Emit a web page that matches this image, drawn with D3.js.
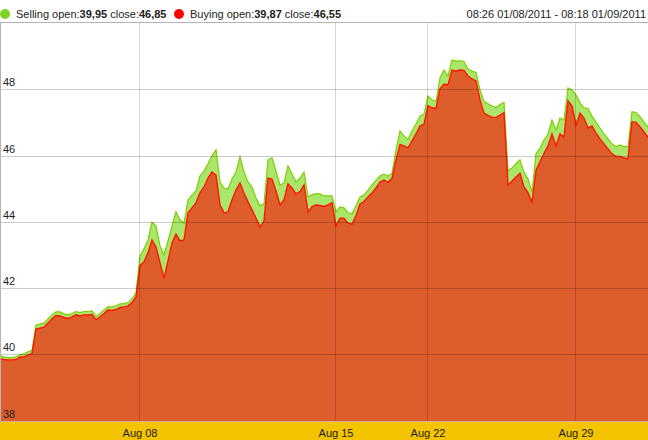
<!DOCTYPE html>
<html lang="en">
<head>
  <meta charset="UTF-8">
  <title>Selling / Buying</title>
  <style>
    body { margin: 0; background: #ffffff; }
    svg text { font-family: "Liberation Sans", Arial, sans-serif; font-size: 11px; fill: #222222; }
  </style>
</head>
<body>
<svg id="chart" width="648" height="440"></svg>

<script src="https://cdn.jsdelivr.net/npm/d3@7/dist/d3.min.js" charset="utf-8"></script>
<script>
  "use strict";

  var sellingValues = [
    39.95,39.92,39.90,39.90,39.92,39.99,40.01,40.07,40.11,40.88,
    40.91,40.94,41.07,41.19,41.28,41.28,41.22,41.19,41.23,41.29,
    41.26,41.29,41.29,41.31,41.14,41.23,41.34,41.44,41.43,41.46,
    41.52,41.53,41.56,41.67,41.85,42.97,43.18,43.45,43.99,43.87,
    43.27,43.00,43.42,43.87,44.30,44.05,43.96,44.66,44.81,44.93,
    45.38,45.53,45.75,45.99,46.17,45.20,45.02,44.99,45.29,45.50,
    45.96,45.50,45.20,45.05,44.72,44.48,44.54,45.87,45.93,45.53,
    45.11,45.17,45.68,45.44,45.20,45.32,45.50,44.75,44.81,44.85,
    44.84,44.78,44.78,44.78,44.30,44.45,44.42,44.27,44.24,44.48,
    44.75,44.81,44.95,45.11,45.25,45.38,45.44,45.38,45.46,46.17,
    46.74,46.59,46.48,46.74,46.95,47.19,47.25,47.80,47.68,47.63,
    48.34,48.58,48.40,48.88,48.85,48.86,48.84,48.61,48.55,48.51,
    47.98,47.63,47.56,47.50,47.45,47.54,47.60,45.53,45.62,45.75,
    45.87,45.50,45.29,44.90,46.05,46.22,46.47,46.65,47.07,46.77,
    47.13,47.07,48.04,47.98,47.83,47.59,47.44,47.42,47.19,47.01,
    46.83,46.65,46.50,46.35,46.27,46.32,46.27,46.27,47.32,47.30,
    47.17,47.01,46.85
  ];

  var buyingValues = [
    39.87,39.84,39.83,39.83,39.84,39.92,39.92,39.98,40.02,40.76,
    40.79,40.82,40.94,41.07,41.17,41.16,41.11,41.08,41.13,41.19,
    41.16,41.19,41.19,41.20,41.04,41.13,41.23,41.34,41.32,41.35,
    41.41,41.43,41.46,41.56,41.73,42.67,42.79,43.06,43.45,43.24,
    42.76,42.30,42.82,43.36,43.63,43.42,43.45,44.27,44.42,44.57,
    44.87,45.05,45.32,45.50,45.41,44.51,44.27,44.30,44.66,44.96,
    45.17,44.87,44.60,44.36,44.11,43.84,44.02,45.32,45.29,44.93,
    44.51,44.66,45.14,45.02,44.84,44.91,45.11,44.30,44.46,44.51,
    44.49,44.46,44.51,44.57,43.87,44.11,44.11,43.96,43.93,44.18,
    44.54,44.61,44.75,44.87,45.02,45.20,45.26,45.19,45.31,45.87,
    46.33,46.29,46.23,46.44,46.65,46.89,46.95,47.50,47.44,47.42,
    48.01,48.16,48.13,48.58,48.55,48.58,48.57,48.40,48.31,48.25,
    47.68,47.28,47.21,47.16,47.15,47.22,47.29,45.11,45.23,45.35,
    45.46,45.05,44.88,44.57,45.56,45.81,46.06,46.29,46.65,46.29,
    46.65,46.56,47.65,47.50,46.92,47.28,47.13,46.83,46.89,46.68,
    46.50,46.35,46.20,46.05,45.97,45.97,45.93,45.90,47.02,47.00,
    46.87,46.71,46.55
  ];

  // first sample of each labelled day
  var tickIndex = [35, 84, 107, 144];
  var tickLabels = ["Aug 08", "Aug 15", "Aug 22", "Aug 29"];
  var yTicks = [38, 40, 42, 44, 46, 48];
  var periodText = "08:26 01/08/2011 - 08:18 01/09/2011";

  var
    width = 648,
    height = 440,
    plotTop = 22,
    plotBottom = 421;

  var svg = d3.select("#chart");

  var xScale = d3.scaleLinear()
    .domain([0, sellingValues.length - 1])
    .range([0, width]);

  var yScale = d3.scaleLinear()
    .domain([38, 50])
    .range([420.5, 23]);

  var comma = function(v){ return d3.format(".2f")(v).replace(".", ","); };

  // areas
  var area = d3.area()
    .x(function(d,i){ return xScale(i); })
    .y0(plotBottom)
    .y1(function(d){ return yScale(d); });

  var line = d3.line()
    .x(function(d,i){ return xScale(i); })
    .y(function(d){ return yScale(d); });

  svg.append("path")
    .datum(sellingValues)
    .attr("d", area)
    .attr("fill", "#aae66c");

  svg.append("path")
    .datum(sellingValues)
    .attr("d", line)
    .attr("fill", "none")
    .attr("stroke", "#7cd000")
    .attr("stroke-width", 1.2);

  svg.append("path")
    .datum(buyingValues)
    .attr("d", area)
    .attr("fill", "#dd5e2c");

  svg.append("path")
    .datum(buyingValues)
    .attr("d", line)
    .attr("fill", "none")
    .attr("stroke", "#ff1500")
    .attr("stroke-width", 1.4);

  // grid
  svg.append("g")
    .selectAll("line")
    .data(yTicks.slice(1))
    .enter()
    .append("line")
    .attr("x1", 0)
    .attr("x2", width)
    .attr("y1", function(d){ return Math.round(yScale(d)) + 0.5; })
    .attr("y2", function(d){ return Math.round(yScale(d)) + 0.5; })
    .attr("stroke", "rgba(0,0,0,0.2)");

  svg.append("g")
    .selectAll("line")
    .data(tickIndex)
    .enter()
    .append("line")
    .attr("x1", function(d){ return Math.round(xScale(d)) - 0.5; })
    .attr("x2", function(d){ return Math.round(xScale(d)) - 0.5; })
    .attr("y1", plotTop)
    .attr("y2", plotBottom)
    .attr("stroke", "rgba(0,0,0,0.16)");

  // frame
  svg.append("line")
    .attr("x1", 0).attr("x2", width)
    .attr("y1", plotTop + 0.5).attr("y2", plotTop + 0.5)
    .attr("stroke", "#b4b4b4");
  svg.append("line")
    .attr("x1", 0.5).attr("x2", 0.5)
    .attr("y1", plotTop).attr("y2", plotBottom)
    .attr("stroke", "#b4b4b4");

  // y labels
  svg.append("g")
    .selectAll("text")
    .data(yTicks)
    .enter()
    .append("text")
    .attr("x", 3)
    .attr("y", function(d){ return yScale(d) - 3; })
    .text(function(d){ return d; });

  // bottom band + date labels
  svg.append("rect")
    .attr("x", 0)
    .attr("y", plotBottom)
    .attr("width", width)
    .attr("height", height - plotBottom)
    .attr("fill", "#f5c400");
  svg.append("line")
    .attr("x1", 0).attr("x2", width)
    .attr("y1", plotBottom + 0.5).attr("y2", plotBottom + 0.5)
    .attr("stroke", "#d8a890");

  svg.append("g")
    .selectAll("text")
    .data(tickIndex)
    .enter()
    .append("text")
    .attr("x", function(d){ return xScale(d); })
    .attr("y", 437)
    .attr("text-anchor", "middle")
    .text(function(d,i){ return tickLabels[i]; });

  // legend
  var legend = [
    { name: "Selling", color: "#7ed321", values: sellingValues, x: 5 },
    { name: "Buying", color: "#ff0000", values: buyingValues, x: 179 }
  ];

  legend.forEach(function(s){
    svg.append("circle")
      .attr("cx", s.x)
      .attr("cy", 14)
      .attr("r", 5)
      .attr("fill", s.color);
    var t = svg.append("text")
      .attr("x", s.x + 11)
      .attr("y", 18);
    t.append("tspan").text(s.name + " open:");
    t.append("tspan").attr("font-weight", "bold").text(comma(s.values[0]));
    t.append("tspan").text(" close:");
    t.append("tspan").attr("font-weight", "bold").text(comma(s.values[s.values.length - 1]));
  });

  svg.append("text")
    .attr("x", 646)
    .attr("y", 18)
    .attr("text-anchor", "end")
    .text(periodText);
</script>
</body>
</html>
